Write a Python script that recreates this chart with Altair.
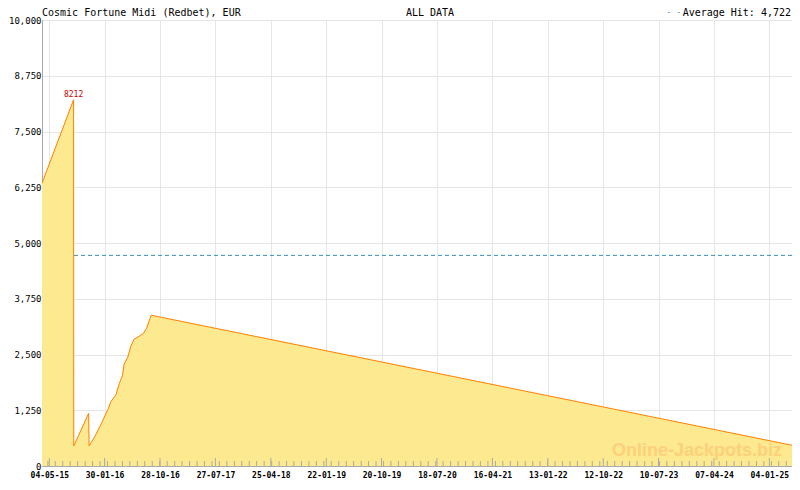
import altair as alt
import pandas as pd

# ---- data ----
dates = [
    "2015-03-29", "2015-08-31", "2015-09-01", "2015-11-13", "2015-11-15",
    "2015-12-12", "2016-01-13", "2016-02-15", "2016-03-02", "2016-03-26",
    "2016-04-11", "2016-04-27", "2016-05-05", "2016-05-22", "2016-06-07",
    "2016-06-23", "2016-07-17", "2016-08-07", "2016-08-23", "2016-09-03",
    "2016-09-15", "2025-04-25",
]
values = [
    6340, 8212, 450, 1180, 450,
    650, 940, 1265, 1450, 1595,
    1850, 2030, 2285, 2430, 2685,
    2845, 2905, 2975, 3085, 3230,
    3380, 465,
]
peak_date = "2015-08-31"
peak_value = 8212
avg_hit = 4722
label_dates = [
    "2015-05-04", "2016-01-30", "2016-10-28", "2017-07-27", "2018-04-25",
    "2019-01-22", "2019-10-20", "2020-07-18", "2021-04-16", "2022-01-13",
    "2022-10-12", "2023-07-10", "2024-04-07", "2025-01-04",
]
y_ticks = [0, 1250, 2500, 3750, 5000, 6250, 7500, 8750, 10000]
domain_start, domain_end = "2015-03-29", "2025-04-25"
title_left = "Cosmic Fortune Midi (Redbet), EUR"
title_center = "ALL DATA"
minor_start, minor_step_days, minor_count = "2015-04-27", 36.6, 100

# ---- helpers ----
def dt(s):
    y, m, d = map(int, s.split("-"))
    return alt.DateTime(year=y, month=m, date=d, utc=True)

minor_dates = []
t = pd.Timestamp(minor_start)
end = pd.Timestamp(domain_end)
while t <= end and len(minor_dates) < minor_count:
    minor_dates.append(t.strftime("%Y-%m-%d"))
    t = t + pd.Timedelta(days=minor_step_days)

W, H = 750, 446
MONO = "DejaVu Sans Mono"

df = pd.DataFrame({"date": dates, "value": values})
peak_df = pd.DataFrame({"date": [peak_date], "value": [peak_value]})
avg_df = pd.DataFrame({"value": [avg_hit]})
minor_df = pd.DataFrame({"date": minor_dates})
major_df = pd.DataFrame({"date": label_dates})

xscale = alt.Scale(type="utc", domain=[dt(domain_start), dt(domain_end)])
yscale = alt.Scale(domain=[0, 10000], nice=False, zero=True)

x_axis = alt.Axis(
    values=[dt(d) for d in label_dates],
    labelExpr="utcFormat(datum.value, '%d-%m-%y')",
    title=None, ticks=False, labelPadding=5, grid=True,
    labelFont=MONO, labelFontSize=8, labelFontWeight="bold", labelColor="#000000",
    labelFlush=False, labelOverlap=False,
    domainColor="#aaaaaa", gridColor="#e6e6e6",
)
y_axis = alt.Axis(
    values=y_ticks, labelExpr="format(datum.value, ',')", title=None, ticks=False,
    labelPadding=1, grid=True, labelFont=MONO, labelFontSize=9, labelColor="#000000",
    labelOverlap=False, labelFlush=False,
    domainColor="#aaaaaa", gridColor="#e6e6e6",
)

X = alt.X("date:T", scale=xscale, axis=x_axis)
Y = alt.Y("value:Q", scale=yscale, axis=y_axis)

base = alt.Chart(df)

avg_rule = alt.Chart(avg_df).mark_rule(
    color="#3d8ec0", strokeWidth=1, strokeDash=[4, 3]
).encode(y=Y)

area = base.mark_area(color="#fde98f", opacity=1).encode(x=X, y=Y)
line = base.mark_line(color="#ff8000", strokeWidth=1).encode(x=X, y=Y)

minor_ticks = alt.Chart(minor_df).mark_rule(color="#aaaaaa", strokeWidth=1).encode(
    x=X, y=alt.value(H - 5), y2=alt.value(H),
)
major_ticks = alt.Chart(major_df).mark_rule(color="#aaaaaa", strokeWidth=1).encode(
    x=X, y=alt.value(H - 8), y2=alt.value(H),
)

peak_label = alt.Chart(peak_df).mark_text(
    font=MONO, fontSize=8, color="#cc0000", dy=-1, baseline="bottom", align="center"
).encode(x=X, y=Y, text="value:N")

watermark = alt.Chart(pd.DataFrame({"t": ["Online-Jackpots.biz"]})).mark_text(
    font="Liberation Sans", fontSize=18, fontWeight="bold", color="#fcd07c",
    align="right", baseline="middle",
).encode(text="t:N", x=alt.value(W - 10), y=alt.value(H - 15))

top_left = alt.Chart(pd.DataFrame({"t": [title_left]})).mark_text(
    font=MONO, fontSize=10, color="#000000", align="left", baseline="alphabetic"
).encode(text="t:N", x=alt.value(0), y=alt.value(-4))

top_center = alt.Chart(pd.DataFrame({"t": [title_center]})).mark_text(
    font=MONO, fontSize=10, color="#000000", align="center", baseline="alphabetic"
).encode(text="t:N", x=alt.value(388), y=alt.value(-4))

avg_text = alt.Chart(pd.DataFrame({"t": [f"Average Hit: {avg_hit:,}"]})).mark_text(
    font=MONO, fontSize=10, color="#000000", align="right", baseline="alphabetic"
).encode(text="t:N", x=alt.value(W - 1), y=alt.value(-4))

avg_dash = alt.Chart(pd.DataFrame({"t": ["- -"]})).mark_text(
    font=MONO, fontSize=8, color="#3d8ec0", align="right", baseline="alphabetic"
).encode(text="t:N", x=alt.value(W - 1 - 110), y=alt.value(-5))

chart = alt.layer(
    avg_rule, area, line, minor_ticks, major_ticks, peak_label, watermark,
    top_left, top_center, avg_text, avg_dash,
).properties(
    width=W, height=H,
    padding={"left": 34, "top": 12, "right": 0, "bottom": 16},
    autosize=alt.AutoSizeParams(type="none"),
    background="#ffffff",
).configure_view(stroke="#aaaaaa", strokeWidth=1)

chart.save("out.html", embed_options={"renderer": "svg", "actions": False})
